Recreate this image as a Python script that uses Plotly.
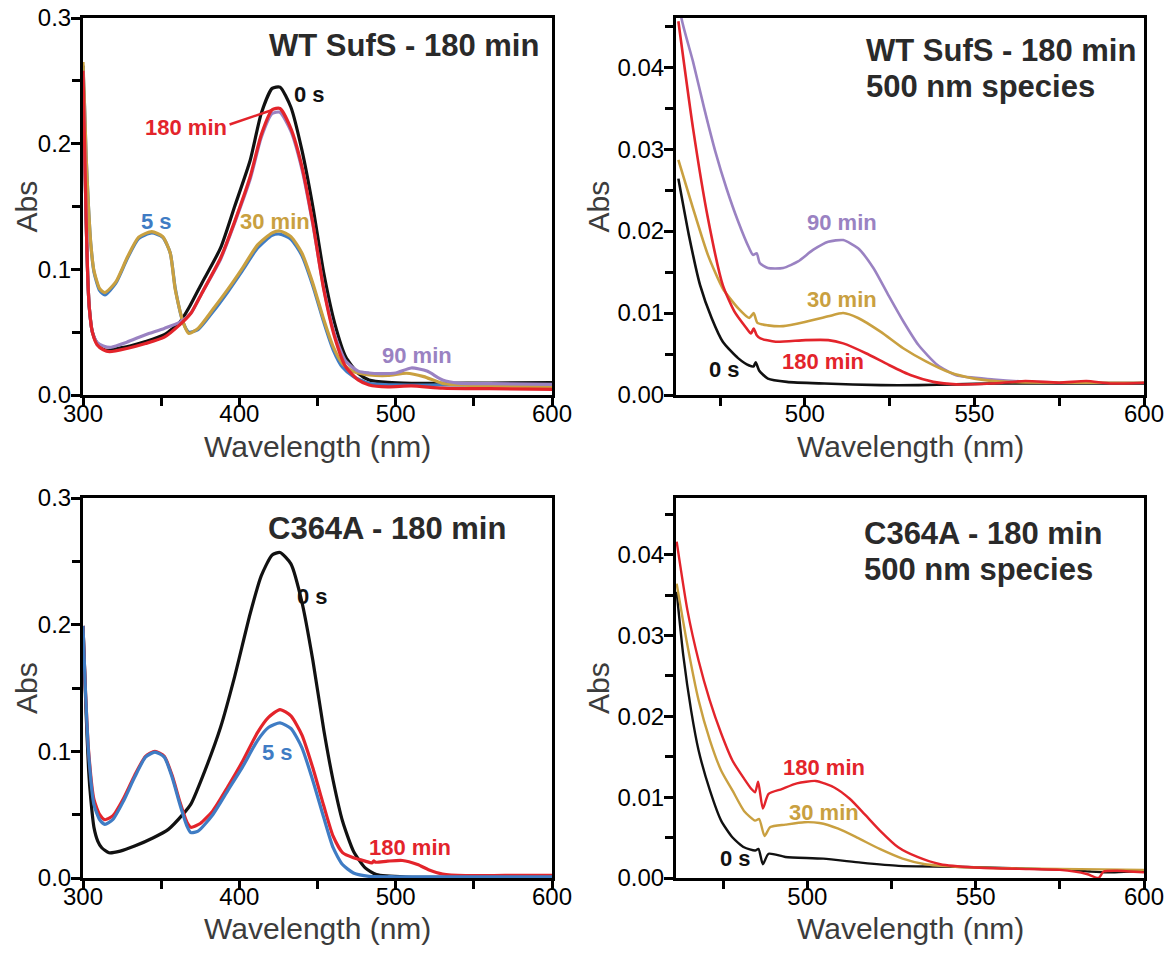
import plotly.graph_objects as go

W, H = 1169, 953

# ---------------- Panel A: WT SufS full spectra ----------------
a_black_x = [300, 301, 302, 303, 304, 306, 309, 312, 316, 322, 330, 340, 352, 362, 368, 376, 388, 397, 407, 414, 421, 426, 433, 440, 447, 454, 461, 468, 476, 483, 495, 510, 530, 560, 600]
a_black_y = [0.262, 0.20, 0.14, 0.095, 0.070, 0.050, 0.041, 0.037, 0.0355, 0.037, 0.039, 0.0425, 0.048, 0.058, 0.070, 0.089, 0.117, 0.150, 0.187, 0.224, 0.244, 0.245, 0.229, 0.195, 0.150, 0.097, 0.057, 0.0305, 0.0173, 0.012, 0.010, 0.0093, 0.0093, 0.0095, 0.0098]

a_red_x = [300, 301, 302, 303, 304, 306, 309, 313, 317, 328, 340, 352, 362, 369, 376, 388, 397, 407, 414, 421, 426, 433, 440, 447, 454, 461, 468, 476, 483, 495, 510, 530, 560, 600]
a_red_y = [0.258, 0.20, 0.14, 0.095, 0.070, 0.050, 0.040, 0.036, 0.0345, 0.037, 0.041, 0.046, 0.056, 0.065, 0.081, 0.109, 0.138, 0.174, 0.207, 0.227, 0.228, 0.212, 0.182, 0.137, 0.084, 0.046, 0.0226, 0.012, 0.008, 0.0065, 0.0072, 0.0055, 0.005, 0.0045]

a_purple_x = [300, 301, 302, 303, 304, 306, 309, 313, 318, 328, 340, 352, 362, 369, 376, 388, 397, 407, 414, 421, 426, 433, 440, 447, 454, 461, 468, 476, 483, 490, 500, 510, 520, 530, 540, 560, 600]
a_purple_y = [0.258, 0.20, 0.14, 0.095, 0.070, 0.050, 0.042, 0.039, 0.038, 0.042, 0.048, 0.053, 0.058, 0.065, 0.081, 0.108, 0.137, 0.172, 0.205, 0.224, 0.225, 0.210, 0.180, 0.136, 0.085, 0.048, 0.027, 0.019, 0.0175, 0.017, 0.0175, 0.0215, 0.019, 0.012, 0.0095, 0.009, 0.0085]

a_blue_x = [300, 301, 302, 303.5, 305, 307, 310.7, 314, 321, 328.5, 335.6, 344, 351, 355.8, 359, 364, 367.7, 373.6, 383, 392.6, 402, 411.7, 421, 426, 433, 440, 447, 454, 460, 466, 473, 483, 500, 530, 600]
a_blue_y = [0.262, 0.23, 0.19, 0.15, 0.12, 0.098, 0.083, 0.0797, 0.089, 0.109, 0.1245, 0.129, 0.1255, 0.113, 0.085, 0.058, 0.050, 0.052, 0.066, 0.082, 0.099, 0.117, 0.127, 0.128, 0.124, 0.111, 0.087, 0.058, 0.036, 0.022, 0.0146, 0.0093, 0.008, 0.008, 0.0078]

a_gold_x = [300, 301, 302, 303.5, 305, 307, 310.7, 314, 321, 328.5, 335.6, 344, 351, 355.8, 359, 364, 367.7, 373.6, 383, 392.6, 402, 411.7, 421, 426, 433, 440, 447, 454, 460, 466, 473, 483, 495, 507, 518, 530, 554, 600]
a_gold_y = [0.265, 0.23, 0.19, 0.15, 0.12, 0.099, 0.0845, 0.0815, 0.090, 0.110, 0.1256, 0.130, 0.126, 0.113, 0.084, 0.058, 0.049, 0.053, 0.068, 0.084, 0.101, 0.1195, 0.129, 0.1305, 0.126, 0.113, 0.089, 0.060, 0.0385, 0.025, 0.0186, 0.016, 0.0155, 0.0173, 0.0146, 0.0093, 0.0074, 0.0066]

# ---------------- Panel B: WT SufS 500 nm species ----------------
b_purple_x = [462, 463.6, 467, 470.3, 473.6, 476.9, 480.3, 483.6, 484.7, 485.8, 486.7, 489.1, 493.6, 498, 502.4, 506.9, 511.3, 515.7, 520.2, 524.6, 529, 533.5, 539, 544.6, 555.7, 566.7, 583.4, 600]
b_purple_y = [0.0525, 0.046, 0.0407, 0.035, 0.0297, 0.0252, 0.0212, 0.0179, 0.0171, 0.0173, 0.0161, 0.0155, 0.0155, 0.0163, 0.0177, 0.0187, 0.0189, 0.0179, 0.0155, 0.0122, 0.0090, 0.0061, 0.0037, 0.0024, 0.0019, 0.0016, 0.0015, 0.0015]

b_gold_x = [462.7, 467, 471.4, 475.8, 480.3, 483.6, 484.9, 486, 489.1, 493.6, 500, 506.9, 511.3, 515.7, 522.4, 529, 535.7, 542.4, 550, 560, 600]
b_gold_y = [0.0287, 0.0228, 0.0171, 0.0130, 0.0106, 0.0094, 0.0100, 0.0088, 0.0085, 0.0084, 0.0089, 0.0096, 0.0100, 0.0094, 0.0077, 0.0057, 0.0041, 0.0028, 0.0020, 0.0016, 0.0015]

b_red_x = [462.7, 467, 471.4, 475.8, 479.2, 482.5, 484.1, 484.9, 485.8, 486.9, 491.4, 500.2, 506.9, 511.3, 518, 524.6, 531.3, 537.9, 544.6, 555, 565, 575, 583, 590, 600]
b_red_y = [0.0456, 0.0326, 0.0216, 0.0134, 0.0102, 0.0083, 0.0075, 0.0081, 0.0073, 0.0069, 0.0065, 0.0067, 0.0067, 0.0063, 0.0051, 0.0037, 0.0024, 0.0016, 0.0013, 0.0014, 0.0017, 0.0015, 0.0017, 0.0014, 0.0015]

b_black_x = [462.7, 465.8, 469.1, 472.5, 475.8, 480.3, 483.6, 484.9, 485.5, 486.5, 489.1, 494.7, 505.8, 522.4, 533.5, 544.6, 555.7, 566.7, 600]
b_black_y = [0.0264, 0.0195, 0.0134, 0.0094, 0.0065, 0.0045, 0.0036, 0.0035, 0.0040, 0.0030, 0.0020, 0.0016, 0.0014, 0.0012, 0.0012, 0.0013, 0.0014, 0.0014, 0.0014]

# ---------------- Panel C: C364A full spectra ----------------
c_black_x = [300, 301, 302, 303.6, 305, 307, 309.5, 312, 316.6, 323.8, 333, 345, 354.6, 364, 369, 378, 388, 397, 407, 414, 421, 426, 433, 440, 447, 454, 460, 466, 473, 480.5, 487.7, 506.7, 600]
c_black_y = [0.199, 0.165, 0.13, 0.085, 0.062, 0.040, 0.029, 0.0239, 0.0199, 0.0212, 0.0252, 0.0318, 0.0384, 0.0504, 0.0583, 0.0848, 0.119, 0.159, 0.209, 0.2385, 0.255, 0.257, 0.248, 0.218, 0.172, 0.117, 0.077, 0.045, 0.0212, 0.008, 0.0027, 0.0008, 0.0008]

c_red_x = [300, 301.5, 303.6, 307, 310.7, 314, 319, 326, 333, 340, 346, 352, 357, 362, 366.5, 369, 375, 383, 392.6, 402, 411.7, 418.8, 426, 433, 440, 447, 454, 460, 466, 473, 480.5, 485, 486, 487, 494.8, 504.3, 514, 521, 530, 544.6, 570, 600]
c_red_y = [0.199, 0.15, 0.10, 0.062, 0.050, 0.046, 0.049, 0.063, 0.081, 0.096, 0.100, 0.096, 0.081, 0.060, 0.044, 0.040, 0.043, 0.053, 0.072, 0.092, 0.115, 0.127, 0.133, 0.128, 0.113, 0.087, 0.057, 0.033, 0.020, 0.0159, 0.0133, 0.012, 0.0135, 0.0125, 0.0133, 0.0138, 0.0106, 0.0066, 0.0032, 0.0019, 0.002, 0.002]

c_blue_x = [300, 301.5, 303.6, 307, 310.7, 314, 319, 326, 333, 340, 346, 352, 357, 362, 366.5, 369, 373.6, 383, 392.6, 402, 411.7, 418.8, 426, 433, 440, 447, 454, 460, 466, 473, 483, 500, 600]
c_blue_y = [0.199, 0.15, 0.098, 0.058, 0.046, 0.0424, 0.046, 0.061, 0.0795, 0.0954, 0.0994, 0.0954, 0.0795, 0.058, 0.041, 0.0358, 0.037, 0.050, 0.069, 0.0875, 0.1087, 0.119, 0.1224, 0.118, 0.103, 0.077, 0.0477, 0.0239, 0.0106, 0.004, 0.0013, 0.001, 0.001]

# ---------------- Panel D: C364A 500 nm species ----------------
d_red_x = [461.2, 464.4, 467.7, 471, 474.4, 477.8, 481.2, 483.4, 484.5, 485.4, 486.8, 488.5, 492.4, 496.9, 502.5, 508, 512.6, 517, 521.5, 527, 532.7, 539.5, 549.6, 566, 575, 583, 586.5, 588, 592, 600]
d_red_y = [0.0416, 0.0331, 0.0269, 0.022, 0.0179, 0.0145, 0.0123, 0.011, 0.0106, 0.0119, 0.0086, 0.0104, 0.011, 0.0117, 0.012, 0.0112, 0.0098, 0.0079, 0.0059, 0.0038, 0.0026, 0.0017, 0.0013, 0.0011, 0.0010, 0.0005, 0.0, 0.0008, 0.0009, 0.0007]

d_gold_x = [461.2, 464.3, 467.7, 471.1, 474.4, 477.8, 481.2, 484.5, 485.7, 487.3, 489, 493.5, 499.1, 503.6, 509.2, 514.8, 521.5, 528.3, 535, 544, 560.8, 600]
d_gold_y = [0.0364, 0.029, 0.022, 0.017, 0.0133, 0.0108, 0.0083, 0.0071, 0.0073, 0.0052, 0.0063, 0.0066, 0.0069, 0.0068, 0.0061, 0.005, 0.0036, 0.0024, 0.0017, 0.0014, 0.0012, 0.001]

d_black_x = [461.2, 463.2, 465.5, 467.7, 471.1, 474.4, 477.8, 481.2, 484.5, 485.5, 486.8, 488.5, 493.5, 504.7, 515.9, 527.1, 544, 560.8, 577.6, 584, 588.8, 600]
d_black_y = [0.0354, 0.0274, 0.0207, 0.0158, 0.0108, 0.0071, 0.005, 0.0038, 0.0034, 0.0036, 0.0017, 0.003, 0.0026, 0.0024, 0.0019, 0.0015, 0.0014, 0.0012, 0.001, 0.0008, 0.0007, 0.0009]

# ---------------- styles ----------------
BLACK = "#111111"
RED = "#e3242b"
BLUE = "#3f7cc4"
GOLD = "#c9a040"
PURPLE = "#9a82c2"
TXT = "#2a2a2a"
FONT = "Liberation Sans, Arial, sans-serif"

fig = go.Figure()

def add(x, y, color, xa, ya, width=3.2):
    fig.add_trace(go.Scatter(x=x, y=y, mode="lines", xaxis=xa, yaxis=ya,
                             line=dict(color=color, width=width, shape="spline", smoothing=0.6),
                             showlegend=False, hoverinfo="skip"))

# panel A
add(a_black_x, a_black_y, BLACK, "x", "y")
add(a_blue_x, a_blue_y, BLUE, "x", "y")
add(a_gold_x, a_gold_y, GOLD, "x", "y")
add(a_purple_x, a_purple_y, PURPLE, "x", "y")
add(a_red_x, a_red_y, RED, "x", "y")
# panel B
add(b_black_x, b_black_y, BLACK, "x2", "y2", 2.6)
add(b_purple_x, b_purple_y, PURPLE, "x2", "y2", 2.6)
add(b_gold_x, b_gold_y, GOLD, "x2", "y2", 2.6)
add(b_red_x, b_red_y, RED, "x2", "y2", 2.6)
# panel C
add(c_black_x, c_black_y, BLACK, "x3", "y3")
add(c_red_x, c_red_y, RED, "x3", "y3")
add(c_blue_x, c_blue_y, BLUE, "x3", "y3")
# panel D
add(d_black_x, d_black_y, BLACK, "x4", "y4", 2.4)
add(d_gold_x, d_gold_y, GOLD, "x4", "y4", 2.4)
add(d_red_x, d_red_y, RED, "x4", "y4", 2.4)

def px(v):
    return v / W

def py(v):
    return 1 - v / H

LEFT = [px(83), px(552)]
RIGHT = [px(676), px(1144)]
TOP = [py(395), py(18)]
BOT = [py(878), py(498)]

tickfont = dict(family=FONT, size=24, color="black")
titlefont = dict(family=FONT, size=30, color="#3c3c3c")

def xax(domain, anchor, rng, tickvals, minor_vals):
    return dict(domain=domain, anchor=anchor, range=rng, tickmode="array", tickvals=tickvals,
                ticks="outside", ticklen=9, tickwidth=2.5, tickcolor="black",
                showline=True, linewidth=3, linecolor="black", mirror=True,
                showgrid=False, zeroline=False, tickfont=tickfont, ticklabelstandoff=-14,
                minor=dict(tickmode="array", tickvals=minor_vals, ticks="outside", ticklen=8,
                           tickwidth=2.5, tickcolor="black", showgrid=False),
                automargin=False)

def yax(domain, anchor, rng, tickvals, fmt, minor_vals):
    return dict(domain=domain, anchor=anchor, range=rng, tickmode="array", tickvals=tickvals,
                tickformat=fmt, ticks="outside", ticklen=9, tickwidth=2.5, tickcolor="black",
                showline=True, linewidth=3, linecolor="black", mirror=True,
                showgrid=False, zeroline=False, tickfont=tickfont, ticklabelstandoff=-5,
                minor=dict(tickmode="array", tickvals=minor_vals, ticks="outside", ticklen=8,
                           tickwidth=2.5, tickcolor="black", showgrid=False),
                automargin=False)

fig.update_layout(
    width=W, height=H,
    margin=dict(l=0, r=0, t=0, b=0),
    paper_bgcolor="white", plot_bgcolor="white",
    xaxis=xax(LEFT, "y", [300, 600], [300, 400, 500, 600], [350, 450, 550]),
    yaxis=yax(TOP, "x", [0, 0.3], [0, 0.1, 0.2, 0.3], ".1f", [0.05, 0.15, 0.25]),
    xaxis2=xax(RIGHT, "y2", [462, 600], [500, 550, 600], [475, 525, 575]),
    yaxis2=yax(TOP, "x2", [0, 0.046], [0, 0.01, 0.02, 0.03, 0.04], ".2f", [0.005, 0.015, 0.025, 0.035, 0.045]),
    xaxis3=xax(LEFT, "y3", [300, 600], [300, 400, 500, 600], [350, 450, 550]),
    yaxis3=yax(BOT, "x3", [0, 0.3], [0, 0.1, 0.2, 0.3], ".1f", [0.05, 0.15, 0.25]),
    xaxis4=xax(RIGHT, "y4", [461, 600], [500, 550, 600], [475, 525, 575]),
    yaxis4=yax(BOT, "x4", [0, 0.047], [0, 0.01, 0.02, 0.03, 0.04], ".2f", [0.005, 0.015, 0.025, 0.035, 0.045]),
)

# axis titles
for cx in [(83 + 552) / 2, (676 + 1144) / 2]:
    for cy in [446, 928]:
        fig.add_annotation(text="Wavelength (nm)", x=px(cx), y=py(cy), xref="paper", yref="paper",
                           showarrow=False, xanchor="center", yanchor="middle", font=titlefont)
for cx in [26, 598]:
    for cy in [(18 + 395) / 2, (498 + 878) / 2]:
        fig.add_annotation(text="Abs", x=px(cx), y=py(cy), xref="paper", yref="paper", textangle=-90,
                           showarrow=False, xanchor="center", yanchor="middle", font=titlefont)

def label(text, x, y, color, xr, yr, size=22, anchor="center"):
    fig.add_annotation(text="<b>%s</b>" % text, x=x, y=y, xref=xr, yref=yr, showarrow=False,
                       xanchor=anchor, yanchor="middle",
                       font=dict(family=FONT, size=size, color=color))

# panel A labels
label("WT SufS - 180 min", 593, 0.2785, TXT, "x", "y", 31, "right")
label("0 s", 445, 0.239, BLACK, "x", "y")
label("180 min", 366, 0.213, RED, "x", "y")
label("5 s", 346.7, 0.1377, BLUE, "x", "y")
label("30 min", 422.8, 0.1377, GOLD, "x", "y")
label("90 min", 513.6, 0.0318, PURPLE, "x", "y")
fig.add_annotation(x=421, y=0.2268, ax=392.8, ay=0.2148, xref="x", yref="y", axref="x", ayref="y",
                   showarrow=True, arrowhead=0, arrowwidth=2.5, arrowcolor=RED, text="")

# panel B labels
label("WT SufS - 180 min", 517.4, 0.0420, TXT, "x2", "y2", 31, "left")
label("500 nm species", 517.4, 0.0376, TXT, "x2", "y2", 31, "left")
label("90 min", 510.8, 0.0210, PURPLE, "x2", "y2")
label("30 min", 510.8, 0.0116, GOLD, "x2", "y2")
label("180 min", 505.4, 0.0041, RED, "x2", "y2")
label("0 s", 476.4, 0.0031, BLACK, "x2", "y2")

# panel C labels
label("C364A - 180 min", 572, 0.2756, TXT, "x3", "y3", 31, "right")
label("0 s", 447, 0.2226, BLACK, "x3", "y3")
label("5 s", 424.7, 0.0994, BLUE, "x3", "y3")
label("180 min", 509, 0.0239, RED, "x3", "y3")

# panel D labels
label("C364A - 180 min", 516.1, 0.0426, TXT, "x4", "y4", 31, "left")
label("500 nm species", 516.1, 0.0382, TXT, "x4", "y4", 31, "left")
label("180 min", 504.9, 0.0137, RED, "x4", "y4")
label("30 min", 504.9, 0.0081, GOLD, "x4", "y4")
label("0 s", 478.7, 0.0024, BLACK, "x4", "y4")

fig.write_html("out.html")
